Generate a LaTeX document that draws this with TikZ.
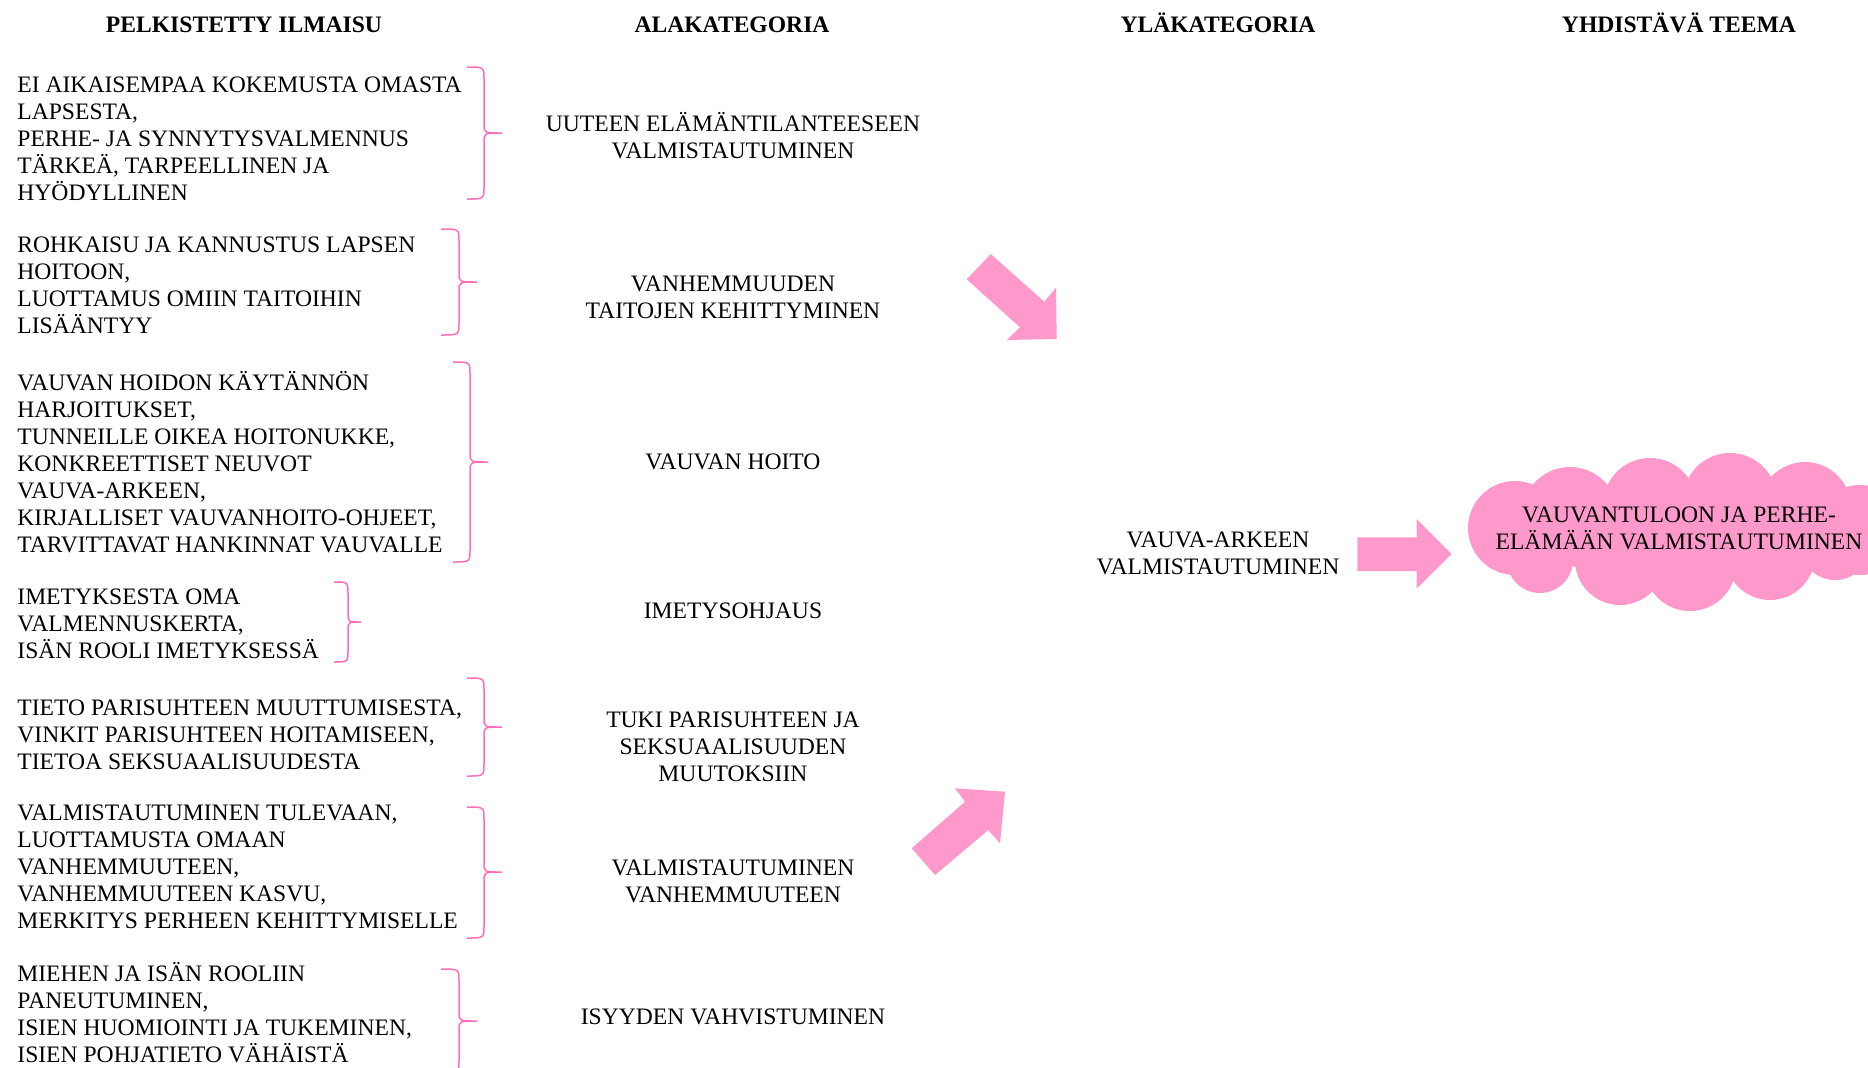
\documentclass[tikz,border=0pt]{standalone}
\usepackage{fontspec}
\setmainfont{Liberation Serif}
\definecolor{pinkF}{RGB}{255,153,204}
\definecolor{pinkB}{RGB}{255,110,185}
\newcommand\bodyfnt{\fontsize{11.8pt}{13.5pt}\selectfont}
% pink curly bracket: hook x, line x, tip x, top y, mid y, bottom y
\newcommand\pbrace[6]{%
  \draw[bracketline] (#1,#4) .. controls (#2,#4) .. (#2,#4+12) -- (#2,#5-9)
    .. controls (#2,#5) .. (#3,#5) .. controls (#2,#5) .. (#2,#5+9)
    -- (#2,#6-12) .. controls (#2,#6) .. (#1,#6);}
\begin{document}
\begin{tikzpicture}[x=0.5pt,y=-0.5pt,
  lefttext/.style={inner sep=0pt, font=\bodyfnt, align=left, anchor=base west},
  midtext/.style={inner sep=0pt, font=\bodyfnt, align=center, anchor=base},
  header/.style={inner sep=0pt, font=\bodyfnt\bfseries, anchor=base},
  bracketline/.style={draw=pinkB, line width=0.75pt},
  blockarrow/.style={fill=pinkF, draw=none},
  cloudfill/.style={fill=pinkF, draw=none}
]
\useasboundingbox (0,0) rectangle (1868,1067);
\clip (0,0) rectangle (1868,1067);

% headers
\node[header] (h1) at (244,32.5) {PELKISTETTY ILMAISU};
\node[header] (h2) at (732,32.5) {ALAKATEGORIA};
\node[header] (h3) at (1218,32.5) {YLÄKATEGORIA};
\node[header] (h4) at (1679,32.5) {YHDISTÄVÄ TEEMA};

% left column (anchor = baseline of the last line)
\node[lefttext] (l1) at (17,200.5) {EI AIKAISEMPAA KOKEMUSTA OMASTA\\LAPSESTA,\\PERHE- JA SYNNYTYSVALMENNUS\\TÄRKEÄ, TARPEELLINEN JA\\HYÖDYLLINEN};
\node[lefttext] (l2) at (17,333.5) {ROHKAISU JA KANNUSTUS LAPSEN\\HOITOON,\\LUOTTAMUS OMIIN TAITOIHIN\\LISÄÄNTYY};
\node[lefttext] (l3) at (17,552) {VAUVAN HOIDON KÄYTÄNNÖN\\HARJOITUKSET,\\TUNNEILLE OIKEA HOITONUKKE,\\KONKREETTISET NEUVOT\\VAUVA-ARKEEN,\\KIRJALLISET VAUVANHOITO-OHJEET,\\TARVITTAVAT HANKINNAT VAUVALLE};
\node[lefttext] (l4) at (17,658.5) {IMETYKSESTA OMA\\VALMENNUSKERTA,\\ISÄN ROOLI IMETYKSESSÄ};
\node[lefttext] (l5) at (17,769) {TIETO PARISUHTEEN MUUTTUMISESTA,\\VINKIT PARISUHTEEN HOITAMISEEN,\\TIETOA SEKSUAALISUUDESTA};
\node[lefttext] (l6) at (17,928.5) {VALMISTAUTUMINEN TULEVAAN,\\LUOTTAMUSTA OMAAN\\VANHEMMUUTEEN,\\VANHEMMUUTEEN KASVU,\\MERKITYS PERHEEN KEHITTYMISELLE};
\node[lefttext] (l7) at (17,1062) {MIEHEN JA ISÄN ROOLIIN\\PANEUTUMINEN,\\ISIEN HUOMIOINTI JA TUKEMINEN,\\ISIEN POHJATIETO VÄHÄISTÄ};

% braces
\pbrace{467}{484}{502}{67}{133}{199}
\pbrace{441}{459}{477}{229}{282}{335}
\pbrace{453}{470}{488}{362}{462}{562}
\pbrace{334}{348}{361}{582}{622}{662}
\pbrace{467}{484}{502}{678}{727}{776}
\pbrace{467}{484}{502}{807}{872}{938}
\pbrace{441}{459}{477}{969}{1021}{1073}

% middle column (anchor = baseline of the last line)
\node[midtext] (m1) at (733,158) {UUTEEN ELÄMÄNTILANTEESEEN\\VALMISTAUTUMINEN};
\node[midtext] (m2) at (733,318.5) {VANHEMMUUDEN\\TAITOJEN KEHITTYMINEN};
\node[midtext] (m3) at (733,469.5) {VAUVAN HOITO};
\node[midtext] (m4) at (733,618.5) {IMETYSOHJAUS};
\node[midtext] (m5) at (733,781.5) {TUKI PARISUHTEEN JA\\SEKSUAALISUUDEN\\MUUTOKSIIN};
\node[midtext] (m6) at (733,902) {VALMISTAUTUMINEN\\VANHEMMUUTEEN};
\node[midtext] (m7) at (733,1024.5) {ISYYDEN VAHVISTUMINEN};

% block arrows
\fill[blockarrow] (966.7,279.3) -- (990.7,254) -- (1044.3,301.7) -- (1056,287.7) -- (1056.7,339) -- (1006.7,340) -- (1020,327.3) -- cycle;
\fill[blockarrow] (935,875) -- (911.7,848.3) -- (965,801.7) -- (955,788.3) -- (1005,791.7) -- (1000,843.3) -- (988.3,830) -- cycle;
\fill[blockarrow] (1357.3,537.3) -- (1416.7,537.3) -- (1416.7,519) -- (1451.7,554) -- (1416.7,588.5) -- (1416.7,571) -- (1357.3,571) -- cycle;

% upper category
\node[midtext] (y1) at (1218,574.5) {VAUVA-ARKEEN\\VALMISTAUTUMINEN};

% cloud
\fill[cloudfill] (1690,530) ellipse [x radius=170, y radius=50];
\fill[cloudfill] (1515,528) circle [radius=47];
\fill[cloudfill] (1570,515) circle [radius=48];
\fill[cloudfill] (1650,505) circle [radius=47];
\fill[cloudfill] (1730,500) circle [radius=47];
\fill[cloudfill] (1805,508) circle [radius=46];
\fill[cloudfill] (1860,530) circle [radius=45];
\fill[cloudfill] (1540,560) circle [radius=33];
\fill[cloudfill] (1620,560) circle [radius=45];
\fill[cloudfill] (1690,565) circle [radius=46];
\fill[cloudfill] (1770,555) circle [radius=45];
\fill[cloudfill] (1835,545) circle [radius=35];
\node[midtext] (t1) at (1679,549.5) {VAUVANTULOON JA PERHE-\\ELÄMÄÄN VALMISTAUTUMINEN};
\end{tikzpicture}
\end{document}
